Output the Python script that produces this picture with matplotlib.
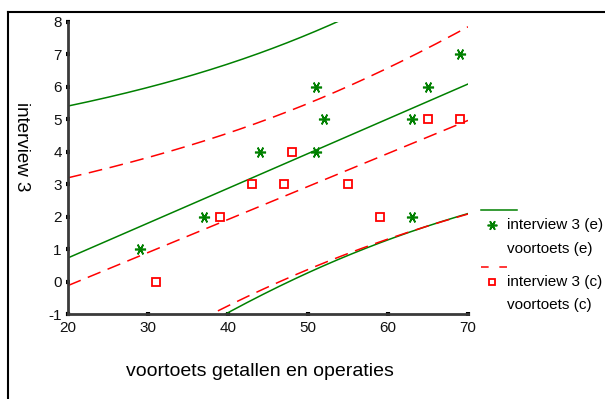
import numpy as np
import matplotlib
matplotlib.use("Agg")
import matplotlib.pyplot as plt
from matplotlib.lines import Line2D

plt.rcParams["font.family"] = ["Liberation Sans", "DejaVu Sans"]
plt.rcParams["axes.unicode_minus"] = False

# group e: voortoets vs interview 3
x_e = [29, 37, 44, 51, 52, 51, 63, 65, 69, 63]
y_e = [1, 2, 4, 6, 5, 4, 5, 6, 7, 2]

# group c
x_c = [31, 39, 43, 47, 48, 55, 59, 65, 69]
y_c = [0, 2, 3, 3, 4, 3, 2, 5, 5]

# t(0.975, n-2)
t_e = 2.306
t_c = 2.365

green = "#008000"
red = "#ff0000"


def fit_band(x, y, t, grid):
    x = np.asarray(x, float)
    y = np.asarray(y, float)
    b, a = np.polyfit(x, y, 1)
    res = y - (a + b * x)
    n = len(x)
    s = np.sqrt((res ** 2).sum() / (n - 2))
    sxx = ((x - x.mean()) ** 2).sum()
    se = s * np.sqrt(1 + 1 / n + (grid - x.mean()) ** 2 / sxx)
    yhat = a + b * grid
    return yhat, yhat - t * se, yhat + t * se


fig = plt.figure(figsize=(6.05, 3.99), dpi=100)
ax = fig.add_axes([0.1124, 0.2118, 0.6612, 0.7343])

grid = np.linspace(20, 70, 200)

fe, le, ue = fit_band(x_e, y_e, t_e, grid)
fc, lc, uc = fit_band(x_c, y_c, t_c, grid)

ax.plot(grid, fe, color=green, lw=1.1)
ax.plot(grid, le, color=green, lw=1.1)
ax.plot(grid, ue, color=green, lw=1.1)

dash = (0, (9, 5))
ax.plot(grid, fc, color=red, lw=1.1, linestyle=dash)
ax.plot(grid, lc, color=red, lw=1.1, linestyle=dash)
ax.plot(grid, uc, color=red, lw=1.1, linestyle=dash)

ax.plot(x_e, y_e, linestyle="none", marker=(6, 2, 90), markersize=8,
        color=green, mew=1.2)
ax.plot(x_c, y_c, linestyle="none", marker="s", markersize=6,
        markerfacecolor="white", markeredgecolor=red, mew=1.3)

ax.set_xlim(20, 70)
ax.set_ylim(-1, 8)
ax.set_xticks([20, 30, 40, 50, 60, 70])
ax.set_yticks(range(-1, 9))

for side in ["top", "right"]:
    ax.spines[side].set_visible(False)
for side in ["left", "bottom"]:
    ax.spines[side].set_color("#3a3a3a")
    ax.spines[side].set_linewidth(2)

ax.tick_params(direction="inout", length=3, width=3, color="black",
               labelsize=11, pad=3, labelcolor="#111111")

fig.text(0.430, 0.07, "voortoets getallen en operaties", fontsize=14,
         ha="center", va="center")
fig.text(0.036, 0.632, "interview 3", fontsize=13.5, rotation=270,
         ha="center", va="center")

# frame lines (top and left)
fig.add_artist(Line2D([8 / 605, 8 / 605], [0, 1 - 12 / 399],
                      transform=fig.transFigure, color="black", lw=1.5))
fig.add_artist(Line2D([8 / 605, 1], [1 - 12 / 399, 1 - 12 / 399],
                      transform=fig.transFigure, color="black", lw=1.5))

# legend
def fx(px):
    return px / 605


def fy(py):
    return 1 - py / 399


fig.add_artist(Line2D([fx(481), fx(517)], [fy(210), fy(210)],
                      transform=fig.transFigure, color=green, lw=1.1))
fig.add_artist(Line2D([fx(492)], [fy(225)], transform=fig.transFigure,
                      marker=(6, 2, 90), markersize=7, color=green, mew=1.2))
fig.text(fx(507), fy(225), "interview 3 (e)", fontsize=11, va="center")
fig.text(fx(507), fy(249), "voortoets (e)", fontsize=11, va="center")

fig.add_artist(Line2D([fx(481), fx(517)], [fy(267), fy(267)],
                      transform=fig.transFigure, color=red, lw=1.1,
                      linestyle=(0, (5, 7))))
fig.add_artist(Line2D([fx(492)], [fy(282)], transform=fig.transFigure,
                      marker="s", markersize=5, markerfacecolor="white",
                      markeredgecolor=red, mew=1.3))
fig.text(fx(507), fy(282), "interview 3 (c)", fontsize=11, va="center")
fig.text(fx(507), fy(305), "voortoets (c)", fontsize=11, va="center")

fig.savefig("out.png", dpi=100)
